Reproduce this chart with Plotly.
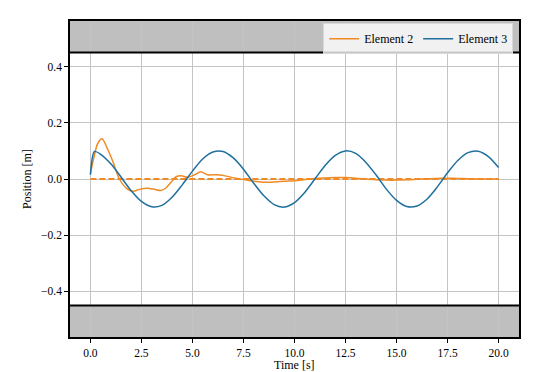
import plotly.graph_objects as go

# Element 3 (blue)
t3 = [0.0, 0.2, 0.5, 1.0, 1.5, 2.0, 2.5, 3.0, 3.5, 4.0, 4.5, 5.0, 5.5, 6.0, 6.5,
      7.0, 7.5, 8.0, 8.5, 9.0, 9.5, 10.0, 10.5, 11.0, 11.5, 12.0, 12.5, 13.0, 13.5,
      14.0, 14.5, 15.0, 15.5, 16.0, 16.5, 17.0, 17.5, 18.0, 18.5, 19.0, 19.5, 20.0]
y3 = [0.015, 0.098, 0.088, 0.054, 0.007, -0.042, -0.080, -0.099, -0.094, -0.065, -0.021,
      0.028, 0.071, 0.096, 0.098, 0.075, 0.035, -0.015, -0.060, -0.091, -0.100, -0.084,
      -0.048, 0.000, 0.048, 0.084, 0.100, 0.091, 0.059, 0.014, -0.036, -0.076, -0.098,
      -0.096, -0.071, -0.028, 0.022, 0.066, 0.094, 0.099, 0.080, 0.041]

# Element 2 (orange)
t2 = [0.0, 0.15, 0.35, 0.57, 0.85, 1.1, 1.42, 1.8, 2.1, 2.4, 2.8, 3.1, 3.45, 3.7,
      3.95, 4.2, 4.45, 4.76, 5.1, 5.41, 5.74, 6.15, 6.55, 7.04, 7.53, 8.35, 9.0, 9.5,
      10.0, 10.5, 11.0, 11.5, 12.0, 12.5, 13.0, 13.5, 14.0, 14.5, 15.0, 15.5, 16.0,
      16.5, 17.0, 17.5, 18.0, 18.5, 19.0, 19.5, 20.0]
y2 = [0.02, 0.07, 0.125, 0.143, 0.105, 0.062, 0.0, -0.035, -0.044, -0.037, -0.033,
      -0.036, -0.041, -0.032, -0.012, 0.008, 0.012, 0.006, 0.015, 0.026, 0.015, 0.015,
      0.012, 0.004, -0.002, -0.011, -0.011, -0.008, -0.006, -0.002, 0.002, 0.004, 0.005,
      0.005, 0.003, 0.0, -0.003, -0.004, -0.004, -0.003, -0.001, 0.001, 0.002, 0.003,
      0.002, 0.001, 0.0, 0.0, 0.0]

# Element 2 reference (dashed)
t_ref = [0.0, 20.0]
y_ref = [0.0, 0.0]

x_ticks = [0.0, 2.5, 5.0, 7.5, 10.0, 12.5, 15.0, 17.5, 20.0]
x_ticklabels = ["0.0", "2.5", "5.0", "7.5", "10.0", "12.5", "15.0", "17.5", "20.0"]
y_ticks = [-0.4, -0.2, 0.0, 0.2, 0.4]
y_ticklabels = ["\u22120.4", "\u22120.2", "0.0", "0.2", "0.4"]

ORANGE = "#f08a24"
BLUE = "#1f6f9f"
FONT = "'Liberation Serif', 'Times New Roman', 'DejaVu Serif', serif"

fig = go.Figure()
fig.add_trace(go.Scatter(x=t_ref, y=y_ref, mode="lines", showlegend=False,
                         line=dict(color=ORANGE, width=1.8, dash="6px,3px")))
fig.add_trace(go.Scatter(x=t2, y=y2, mode="lines", name="Element 2",
                         line=dict(color=ORANGE, width=1.5, shape="spline", smoothing=0.8)))
fig.add_trace(go.Scatter(x=t3, y=y3, mode="lines", name="Element 3",
                         line=dict(color=BLUE, width=1.5, shape="spline", smoothing=0.8)))

# grey bands
fig.add_shape(type="rect", xref="paper", yref="y", x0=0, x1=1, y0=0.45, y1=0.5625,
              fillcolor="#bfbfbf", line=dict(width=0), layer="below")
fig.add_shape(type="rect", xref="paper", yref="y", x0=0, x1=1, y0=-0.5625, y1=-0.45,
              fillcolor="#bfbfbf", line=dict(width=0), layer="below")
for yv in (0.45, -0.45):
    fig.add_shape(type="line", xref="paper", yref="y", x0=0, x1=1, y0=yv, y1=yv,
                  line=dict(color="black", width=2), layer="above")

# axis titles
fig.add_annotation(text="Time [s]", xref="paper", yref="paper", x=0.5, y=-0.089,
                   xanchor="center", yanchor="middle", showarrow=False,
                   font=dict(family=FONT, size=12, color="black"))
fig.add_annotation(text="Position [m]", xref="paper", yref="paper", x=-0.096, y=0.5,
                   xanchor="center", yanchor="middle", showarrow=False, textangle=-90,
                   font=dict(family=FONT, size=12, color="black"))

fig.update_layout(
    width=540, height=372,
    margin=dict(l=62, r=29, t=13, b=43),
    paper_bgcolor="white", plot_bgcolor="white",
    font=dict(family=FONT, size=12, color="black"),
    legend=dict(orientation="h", x=0.987, xanchor="right", y=0.993, yanchor="top",
                bgcolor="rgba(255,255,255,0.78)", bordercolor="#d8d8d8", borderwidth=1,
                font=dict(family=FONT, size=12), itemwidth=30),
)
fig.update_xaxes(range=[-1, 21], tickvals=x_ticks, ticktext=x_ticklabels, automargin=False,
                 showgrid=True, gridcolor="#c4c4c4", gridwidth=1,
                 showline=True, linecolor="black", linewidth=1.5, mirror=True,
                 ticks="outside", ticklen=4, tickcolor="black",
                 tickfont=dict(family=FONT, size=11.5), zeroline=False)
fig.update_yaxes(range=[-0.5625, 0.5625], tickvals=y_ticks, ticktext=y_ticklabels, automargin=False,
                 showgrid=True, gridcolor="#c4c4c4", gridwidth=1,
                 showline=True, linecolor="black", linewidth=1.5, mirror=True,
                 ticks="outside", ticklen=4, tickcolor="black",
                 tickfont=dict(family=FONT, size=11.5), zeroline=False)

fig.write_html("out.html")
